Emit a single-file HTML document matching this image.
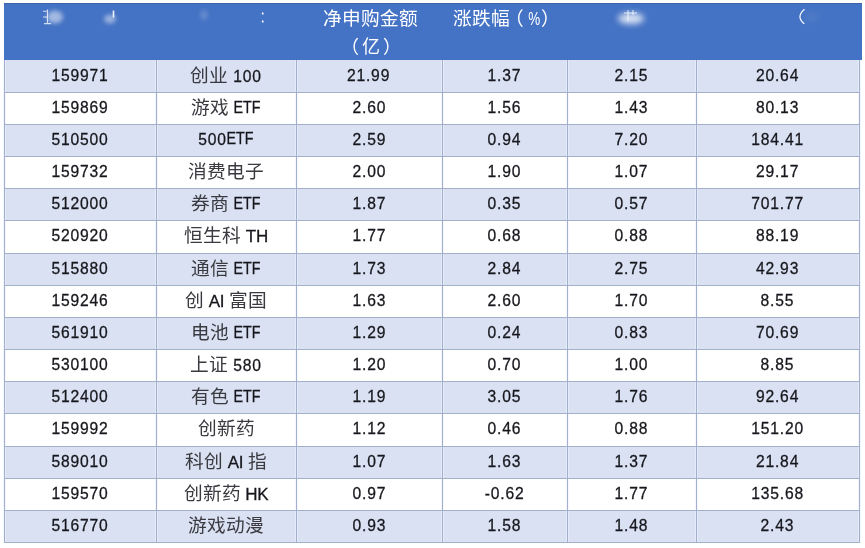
<!DOCTYPE html><html lang="zh-CN"><head><meta charset="utf-8"><style>
html,body{margin:0;padding:0;background:#fff;width:865px;height:548px;overflow:hidden;}
body{position:relative;font-family:"Liberation Sans",sans-serif;}
.hd{position:absolute;left:4px;top:3px;width:858px;height:57px;background:#4472C4;}
.hdt{position:absolute;left:4px;top:3px;width:858px;height:1px;background:#3A60A8;}
.r{position:absolute;left:4px;width:855px;}
.odd{background:#D9E1F2;}
.hl{position:absolute;left:4px;width:856px;height:1px;background:#A2B0CA;}
.vl{position:absolute;top:60px;width:1px;height:483px;background:#A2B0CA;box-shadow:-1px 0 0 rgba(236,242,255,.6),1px 0 0 rgba(236,242,255,.6);}
.c{position:absolute;font-size:17px;color:#16161c;text-align:center;white-space:nowrap;line-height:20px;-webkit-text-stroke:0.3px #1a1a20;}
.tl{position:absolute;left:0;top:0;width:865px;height:548px;will-change:transform;}
.k{font-size:18.7px;-webkit-text-stroke:0;color:#3a3a40;}
.l{letter-spacing:-0.2px;}
.d{display:inline-block;transform:scaleX(.92);letter-spacing:0.9px;}
.etf{display:inline-block;transform:translateY(-0.8px) scaleX(.84);margin:0 -2.6px;-webkit-text-stroke:0.3px #16161c;}
.h{position:absolute;color:#fff;font-size:18.7px;line-height:28px;text-align:center;white-space:nowrap;}
.sm{position:absolute;border-radius:50%;background:rgba(255,255,255,.55);filter:blur(3px);}
</style></head><body>
<div class="hd"></div><div class="hdt"></div>
<div class="r odd" style="top:60px;height:32px"></div>
<div class="r odd" style="top:125px;height:31px"></div>
<div class="r odd" style="top:189px;height:31px"></div>
<div class="r odd" style="top:254px;height:31px"></div>
<div class="r odd" style="top:318px;height:31px"></div>
<div class="r odd" style="top:382px;height:31px"></div>
<div class="r odd" style="top:447px;height:31px"></div>
<div class="r odd" style="top:511px;height:31px"></div>
<div class="vl" style="left:4px"></div>
<div class="vl" style="left:156px"></div>
<div class="vl" style="left:296px"></div>
<div class="vl" style="left:442px"></div>
<div class="vl" style="left:567px"></div>
<div class="vl" style="left:696px"></div>
<div class="vl" style="left:859px"></div>
<div class="hl" style="top:92px"></div>
<div class="hl" style="top:124px"></div>
<div class="hl" style="top:156px"></div>
<div class="hl" style="top:188px"></div>
<div class="hl" style="top:220px"></div>
<div class="hl" style="top:253px"></div>
<div class="hl" style="top:285px"></div>
<div class="hl" style="top:317px"></div>
<div class="hl" style="top:349px"></div>
<div class="hl" style="top:381px"></div>
<div class="hl" style="top:413px"></div>
<div class="hl" style="top:446px"></div>
<div class="hl" style="top:478px"></div>
<div class="hl" style="top:510px"></div>
<div class="hl" style="top:542px"></div>
<div class="tl">
<div class="c" style="left:4px;width:152px;top:65.5px"><span class="d" style="margin:0 -2.49px">159971</span></div>
<div class="c" style="left:156px;width:140px;top:65.5px"><span class="k">创业</span> <span class="d" style="margin:0 -1.24px">100</span></div>
<div class="c" style="left:296px;width:146px;top:65.5px"><span class="d" style="margin:0 -1.88px">21.99</span></div>
<div class="c" style="left:442px;width:125px;top:65.5px"><span class="d" style="margin:0 -1.47px">1.37</span></div>
<div class="c" style="left:567px;width:129px;top:65.5px"><span class="d" style="margin:0 -1.47px">2.15</span></div>
<div class="c" style="left:696px;width:163px;top:65.5px"><span class="d" style="margin:0 -1.88px">20.64</span></div>
<div class="c" style="left:4px;width:152px;top:97.7px"><span class="d" style="margin:0 -2.49px">159869</span></div>
<div class="c" style="left:156px;width:140px;top:97.7px"><span class="k">游戏</span> <span class="etf">ETF</span></div>
<div class="c" style="left:296px;width:146px;top:97.7px"><span class="d" style="margin:0 -1.47px">2.60</span></div>
<div class="c" style="left:442px;width:125px;top:97.7px"><span class="d" style="margin:0 -1.47px">1.56</span></div>
<div class="c" style="left:567px;width:129px;top:97.7px"><span class="d" style="margin:0 -1.47px">1.43</span></div>
<div class="c" style="left:696px;width:163px;top:97.7px"><span class="d" style="margin:0 -1.88px">80.13</span></div>
<div class="c" style="left:4px;width:152px;top:129.8px"><span class="d" style="margin:0 -2.49px">510500</span></div>
<div class="c" style="left:156px;width:140px;top:129.8px"><span class="d" style="margin:0 -1.24px">500</span><span class="etf">ETF</span></div>
<div class="c" style="left:296px;width:146px;top:129.8px"><span class="d" style="margin:0 -1.47px">2.59</span></div>
<div class="c" style="left:442px;width:125px;top:129.8px"><span class="d" style="margin:0 -1.47px">0.94</span></div>
<div class="c" style="left:567px;width:129px;top:129.8px"><span class="d" style="margin:0 -1.47px">7.20</span></div>
<div class="c" style="left:696px;width:163px;top:129.8px"><span class="d" style="margin:0 -2.30px">184.41</span></div>
<div class="c" style="left:4px;width:152px;top:162.0px"><span class="d" style="margin:0 -2.49px">159732</span></div>
<div class="c" style="left:156px;width:140px;top:162.0px"><span class="k">消费电子</span></div>
<div class="c" style="left:296px;width:146px;top:162.0px"><span class="d" style="margin:0 -1.47px">2.00</span></div>
<div class="c" style="left:442px;width:125px;top:162.0px"><span class="d" style="margin:0 -1.47px">1.90</span></div>
<div class="c" style="left:567px;width:129px;top:162.0px"><span class="d" style="margin:0 -1.47px">1.07</span></div>
<div class="c" style="left:696px;width:163px;top:162.0px"><span class="d" style="margin:0 -1.88px">29.17</span></div>
<div class="c" style="left:4px;width:152px;top:194.2px"><span class="d" style="margin:0 -2.49px">512000</span></div>
<div class="c" style="left:156px;width:140px;top:194.2px"><span class="k">券商</span> <span class="etf">ETF</span></div>
<div class="c" style="left:296px;width:146px;top:194.2px"><span class="d" style="margin:0 -1.47px">1.87</span></div>
<div class="c" style="left:442px;width:125px;top:194.2px"><span class="d" style="margin:0 -1.47px">0.35</span></div>
<div class="c" style="left:567px;width:129px;top:194.2px"><span class="d" style="margin:0 -1.47px">0.57</span></div>
<div class="c" style="left:696px;width:163px;top:194.2px"><span class="d" style="margin:0 -2.30px">701.77</span></div>
<div class="c" style="left:4px;width:152px;top:226.4px"><span class="d" style="margin:0 -2.49px">520920</span></div>
<div class="c" style="left:156px;width:140px;top:226.4px"><span class="k">恒生科</span> <span class="l">TH</span></div>
<div class="c" style="left:296px;width:146px;top:226.4px"><span class="d" style="margin:0 -1.47px">1.77</span></div>
<div class="c" style="left:442px;width:125px;top:226.4px"><span class="d" style="margin:0 -1.47px">0.68</span></div>
<div class="c" style="left:567px;width:129px;top:226.4px"><span class="d" style="margin:0 -1.47px">0.88</span></div>
<div class="c" style="left:696px;width:163px;top:226.4px"><span class="d" style="margin:0 -1.88px">88.19</span></div>
<div class="c" style="left:4px;width:152px;top:258.5px"><span class="d" style="margin:0 -2.49px">515880</span></div>
<div class="c" style="left:156px;width:140px;top:258.5px"><span class="k">通信</span> <span class="etf">ETF</span></div>
<div class="c" style="left:296px;width:146px;top:258.5px"><span class="d" style="margin:0 -1.47px">1.73</span></div>
<div class="c" style="left:442px;width:125px;top:258.5px"><span class="d" style="margin:0 -1.47px">2.84</span></div>
<div class="c" style="left:567px;width:129px;top:258.5px"><span class="d" style="margin:0 -1.47px">2.75</span></div>
<div class="c" style="left:696px;width:163px;top:258.5px"><span class="d" style="margin:0 -1.88px">42.93</span></div>
<div class="c" style="left:4px;width:152px;top:290.7px"><span class="d" style="margin:0 -2.49px">159246</span></div>
<div class="c" style="left:156px;width:140px;top:290.7px"><span class="k">创</span> <span class="l">AI</span> <span class="k">富国</span></div>
<div class="c" style="left:296px;width:146px;top:290.7px"><span class="d" style="margin:0 -1.47px">1.63</span></div>
<div class="c" style="left:442px;width:125px;top:290.7px"><span class="d" style="margin:0 -1.47px">2.60</span></div>
<div class="c" style="left:567px;width:129px;top:290.7px"><span class="d" style="margin:0 -1.47px">1.70</span></div>
<div class="c" style="left:696px;width:163px;top:290.7px"><span class="d" style="margin:0 -1.47px">8.55</span></div>
<div class="c" style="left:4px;width:152px;top:322.9px"><span class="d" style="margin:0 -2.49px">561910</span></div>
<div class="c" style="left:156px;width:140px;top:322.9px"><span class="k">电池</span> <span class="etf">ETF</span></div>
<div class="c" style="left:296px;width:146px;top:322.9px"><span class="d" style="margin:0 -1.47px">1.29</span></div>
<div class="c" style="left:442px;width:125px;top:322.9px"><span class="d" style="margin:0 -1.47px">0.24</span></div>
<div class="c" style="left:567px;width:129px;top:322.9px"><span class="d" style="margin:0 -1.47px">0.83</span></div>
<div class="c" style="left:696px;width:163px;top:322.9px"><span class="d" style="margin:0 -1.88px">70.69</span></div>
<div class="c" style="left:4px;width:152px;top:355.0px"><span class="d" style="margin:0 -2.49px">530100</span></div>
<div class="c" style="left:156px;width:140px;top:355.0px"><span class="k">上证</span> <span class="d" style="margin:0 -1.24px">580</span></div>
<div class="c" style="left:296px;width:146px;top:355.0px"><span class="d" style="margin:0 -1.47px">1.20</span></div>
<div class="c" style="left:442px;width:125px;top:355.0px"><span class="d" style="margin:0 -1.47px">0.70</span></div>
<div class="c" style="left:567px;width:129px;top:355.0px"><span class="d" style="margin:0 -1.47px">1.00</span></div>
<div class="c" style="left:696px;width:163px;top:355.0px"><span class="d" style="margin:0 -1.47px">8.85</span></div>
<div class="c" style="left:4px;width:152px;top:387.2px"><span class="d" style="margin:0 -2.49px">512400</span></div>
<div class="c" style="left:156px;width:140px;top:387.2px"><span class="k">有色</span> <span class="etf">ETF</span></div>
<div class="c" style="left:296px;width:146px;top:387.2px"><span class="d" style="margin:0 -1.47px">1.19</span></div>
<div class="c" style="left:442px;width:125px;top:387.2px"><span class="d" style="margin:0 -1.47px">3.05</span></div>
<div class="c" style="left:567px;width:129px;top:387.2px"><span class="d" style="margin:0 -1.47px">1.76</span></div>
<div class="c" style="left:696px;width:163px;top:387.2px"><span class="d" style="margin:0 -1.88px">92.64</span></div>
<div class="c" style="left:4px;width:152px;top:419.4px"><span class="d" style="margin:0 -2.49px">159992</span></div>
<div class="c" style="left:156px;width:140px;top:419.4px"><span class="k">创新药</span></div>
<div class="c" style="left:296px;width:146px;top:419.4px"><span class="d" style="margin:0 -1.47px">1.12</span></div>
<div class="c" style="left:442px;width:125px;top:419.4px"><span class="d" style="margin:0 -1.47px">0.46</span></div>
<div class="c" style="left:567px;width:129px;top:419.4px"><span class="d" style="margin:0 -1.47px">0.88</span></div>
<div class="c" style="left:696px;width:163px;top:419.4px"><span class="d" style="margin:0 -2.30px">151.20</span></div>
<div class="c" style="left:4px;width:152px;top:451.5px"><span class="d" style="margin:0 -2.49px">589010</span></div>
<div class="c" style="left:156px;width:140px;top:451.5px"><span class="k">科创</span> <span class="l">AI</span> <span class="k">指</span></div>
<div class="c" style="left:296px;width:146px;top:451.5px"><span class="d" style="margin:0 -1.47px">1.07</span></div>
<div class="c" style="left:442px;width:125px;top:451.5px"><span class="d" style="margin:0 -1.47px">1.63</span></div>
<div class="c" style="left:567px;width:129px;top:451.5px"><span class="d" style="margin:0 -1.47px">1.37</span></div>
<div class="c" style="left:696px;width:163px;top:451.5px"><span class="d" style="margin:0 -1.88px">21.84</span></div>
<div class="c" style="left:4px;width:152px;top:483.7px"><span class="d" style="margin:0 -2.49px">159570</span></div>
<div class="c" style="left:156px;width:140px;top:483.7px"><span class="k">创新药</span> <span class="l">HK</span></div>
<div class="c" style="left:296px;width:146px;top:483.7px"><span class="d" style="margin:0 -1.47px">0.97</span></div>
<div class="c" style="left:442px;width:125px;top:483.7px"><span class="d" style="margin:0 -1.73px">-0.62</span></div>
<div class="c" style="left:567px;width:129px;top:483.7px"><span class="d" style="margin:0 -1.47px">1.77</span></div>
<div class="c" style="left:696px;width:163px;top:483.7px"><span class="d" style="margin:0 -2.30px">135.68</span></div>
<div class="c" style="left:4px;width:152px;top:515.9px"><span class="d" style="margin:0 -2.49px">516770</span></div>
<div class="c" style="left:156px;width:140px;top:515.9px"><span class="k">游戏动漫</span></div>
<div class="c" style="left:296px;width:146px;top:515.9px"><span class="d" style="margin:0 -1.47px">0.93</span></div>
<div class="c" style="left:442px;width:125px;top:515.9px"><span class="d" style="margin:0 -1.47px">1.58</span></div>
<div class="c" style="left:567px;width:129px;top:515.9px"><span class="d" style="margin:0 -1.47px">1.48</span></div>
<div class="c" style="left:696px;width:163px;top:515.9px"><span class="d" style="margin:0 -1.47px">2.43</span></div>
<div class="h" style="left:322.6px;top:5px">净申购金额</div>
<div class="h" style="left:341px;top:32.5px;letter-spacing:3px;font-size:18px">（亿）</div>
<div class="h" style="left:453.2px;top:5px">涨跌幅</div>
<div class="h" style="left:505px;top:5px">（<span style="display:inline-block;transform:scaleX(.72);margin:0 -2px 0 2px">%</span>）</div>
<svg style="position:absolute;left:0;top:0" width="865" height="60" viewBox="0 0 865 60">
<defs><filter id="b2" x="-50%" y="-50%" width="200%" height="200%"><feGaussianBlur stdDeviation="2.2"/></filter>
<filter id="b1" x="-50%" y="-50%" width="200%" height="200%"><feGaussianBlur stdDeviation="0.5"/></filter></defs>
<filter id="b3" x="-50%" y="-50%" width="200%" height="200%"><feGaussianBlur stdDeviation="3"/></filter>
<g filter="url(#b2)" fill="#fff">
<ellipse cx="55" cy="17" rx="8" ry="6.5" opacity="0.5"/>
<ellipse cx="110" cy="19" rx="6" ry="4.5" opacity="0.45"/>
<ellipse cx="204" cy="15" rx="4" ry="5" opacity="0.18"/>
</g><g filter="url(#b3)" fill="#fff"><ellipse cx="631" cy="18.5" rx="13" ry="5.5" opacity="0.8"/>
<ellipse cx="812" cy="17" rx="8" ry="6" opacity="0.06"/>
</g>
<g filter="url(#b1)" fill="none" stroke="#fff">
<path d="M47.5 9.5 V23.8 M44 23.6 H51 M43 11.3 H47.5 M43 17 H47" stroke-width="1.1" opacity="0.75"/>
<path d="M113.5 10.5 V17.5" stroke-width="1.6" opacity="0.9"/>
<path d="M262.7 12.5 V14.5 M262.7 20.5 V22.5" stroke-width="1.6"/>
<path d="M804.5 9.3 Q795.5 16.8 804.3 23.8" stroke-width="1.2"/>
<path d="M624 13 H637 M628 10 V21 M633 10 V15" stroke-width="1" opacity="0.8"/>
</g>
</svg>
</div>
</body></html>
